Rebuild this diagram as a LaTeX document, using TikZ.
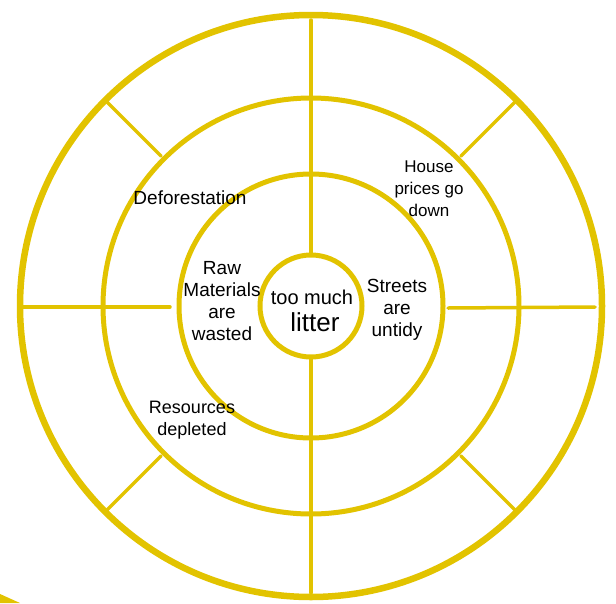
\documentclass[tikz,border=0pt]{standalone}
\usepackage{fontspec}
\setmainfont{Liberation Sans}
\definecolor{ringyellow}{RGB}{226,195,0}
\begin{document}
\begin{tikzpicture}[x=1pt,y=-1pt,
  ringline/.style={draw=ringyellow, line width=#1},
  spoke/.style={draw=ringyellow, line width=3.5pt, line cap=round},
  lbl/.style={font=\fontsize{#1}{22}\selectfont, align=center, text=black, inner sep=0pt}]
\useasboundingbox (0,0) rectangle (616,603);
\coordinate (c) at (311,306);
% rings
\draw[ringline=6.5pt] (c) circle[radius=291];
\draw[ringline=5pt] (c) circle[radius=208];
\draw[ringline=5pt] (c) circle[radius=132];
\draw[ringline=5pt] (c) circle[radius=51];
% vertical spokes
\coordinate (vt1) at (311,20);
\coordinate (vt2) at (311,253);
\coordinate (vb1) at (311,359);
\coordinate (vb2) at (311,593);
\draw[spoke] (vt1) -- (vt2);
\draw[spoke] (vb1) -- (vb2);
% horizontal spokes
\coordinate (hl1) at (23,307);
\coordinate (hl2) at (170,307);
\coordinate (hr1) at (448,308);
\coordinate (hr2) at (595,307);
\draw[spoke] (hl1) -- (hl2);
\draw[spoke] (hr1) -- (hr2);
% diagonal spokes in the outer band
\foreach \a in {45,135,225,315}{
  \draw[spoke] ([shift={(\a:212)}]c) -- ([shift={(\a:289)}]c);
}
% corner fragment
\fill[ringyellow] (0,594) -- (20,603) -- (0,603) -- cycle;
% labels
\node[lbl=19] (defo) at (190,198) {Deforestation};
\node[lbl=17] (house) at (429,189) {House\\prices go\\down};
\node[lbl=19] (raw) at (222,301) {Raw\\Materials\\are\\wasted};
\node[lbl=20] (too) at (312,297) {too much};
\node[lbl=26] (litter) at (315,322) {litter};
\node[lbl=19] (streets) at (397,310) {Streets\\are\\untidy};
\node[lbl=18] (res) at (192,420) {Resources\\depleted};
\end{tikzpicture}
\end{document}
